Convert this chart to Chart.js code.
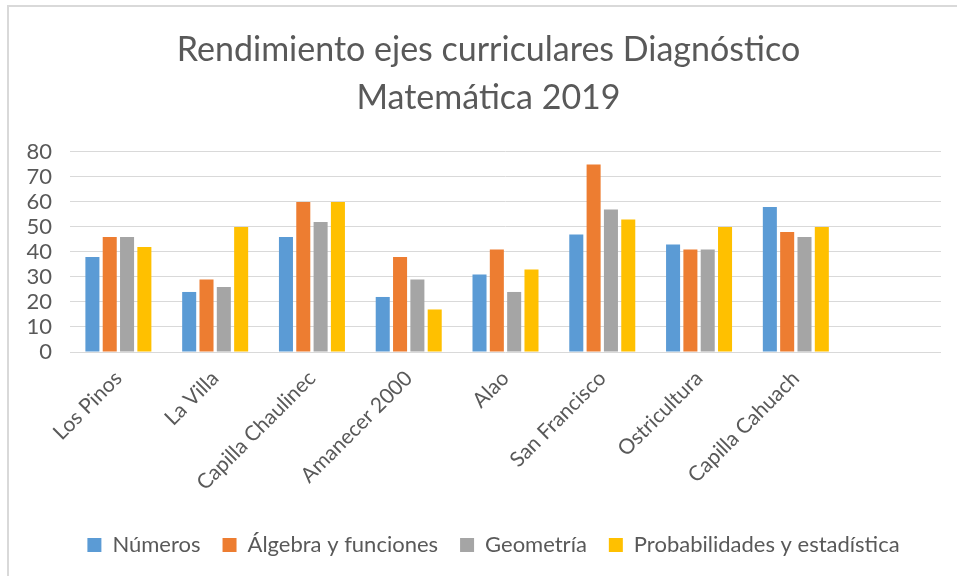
<!DOCTYPE html>
<html>
<head>
<meta charset="utf-8">
<script src="https://cdn.jsdelivr.net/npm/chart.js@4"></script>
<style>
  html, body { margin: 0; padding: 0; background: #fff; }
  #wrap { position: relative; width: 957px; height: 576px; overflow: hidden; }
  #frame { position: absolute; left: 7px; top: 5px; width: 1000px; height: 700px;
           border-left: 2px solid #d9d9d9; border-top: 2px solid #d9d9d9; }
  canvas { position: absolute; left: 0; top: 0; }
</style>
</head>
<body>
<div id="wrap">
  <div id="frame"></div>
  <canvas id="c" width="957" height="576"></canvas>
</div>
<script>
const categories = ['Los Pinos', 'La Villa', 'Capilla Chaulinec', 'Amanecer 2000', 'Alao', 'San Francisco', 'Ostricultura', 'Capilla Cahuach', ''];
const numeros        = [38, 24, 46, 22, 31, 47, 43, 58, null];
const algebra        = [46, 29, 60, 38, 41, 75, 41, 48, null];
const geometria      = [46, 26, 52, 29, 24, 57, 41, 46, null];
const probabilidades = [42, 50, 60, 17, 33, 53, 50, 50, null];
const yTicks = [0, 10, 20, 30, 40, 50, 60, 70, 80];
const titleLines = ['Rendimiento ejes curriculares Diagnóstico', 'Matemática 2019'];

const FONT = 'Lato, "Open Sans", sans-serif';
const TXT = '#595959';

// shift title and legend horizontally to match the reference's centring
const shiftBlocks = {
  id: 'shiftBlocks',
  afterLayout(chart) {
    if (chart.titleBlock) { chart.titleBlock.left += 18; chart.titleBlock.right += 18; }
    if (chart.legend) { chart.legend.left += 23; chart.legend.right += 23; }
  }
};

new Chart(document.getElementById('c'), {
  type: 'bar',
  plugins: [shiftBlocks],
  data: {
    labels: categories,
    datasets: [
      { label: 'Números', data: numeros, backgroundColor: '#5B9BD5' },
      { label: 'Álgebra y funciones', data: algebra, backgroundColor: '#ED7D31' },
      { label: 'Geometría', data: geometria, backgroundColor: '#A5A5A5' },
      { label: 'Probabilidades y estadística', data: probabilidades, backgroundColor: '#FFC000' }
    ]
  },
  options: {
    responsive: false,
    animation: false,
    layout: { padding: { left: 0, right: 16, top: 0, bottom: 10 } },
    datasets: { bar: { categoryPercentage: 0.716, barPercentage: 0.81 } },
    plugins: {
      title: {
        display: true,
        text: titleLines,
        color: TXT,
        font: { family: FONT, size: 34, weight: 'normal', lineHeight: 1.41 },
        padding: { top: 26, bottom: 30 }
      },
      legend: {
        position: 'bottom',
        labels: {
          color: TXT,
          font: { family: FONT, size: 22 },
          boxWidth: 14,
          boxHeight: 14,
          padding: 22
        }
      },
      tooltip: { enabled: false }
    },
    scales: {
      x: {
        grid: { display: false },
        border: { display: false },
        ticks: {
          color: TXT,
          font: { family: FONT, size: 21 },
          autoSkip: false,
          minRotation: 45,
          maxRotation: 45,
          padding: 6
        },
        afterFit: s => { s.height = 160; }
      },
      y: {
        min: 0,
        max: 80,
        afterBuildTicks: s => { s.ticks = yTicks.map(v => ({ value: v })); },
        grid: { color: '#d9d9d9', lineWidth: 1, drawTicks: false },
        border: { display: false },
        ticks: {
          color: TXT,
          font: { family: FONT, size: 22 },
          padding: 18,
          autoSkip: false
        },
        afterFit: s => { s.width = 70; }
      }
    }
  }
});
</script>
</body>
</html>
